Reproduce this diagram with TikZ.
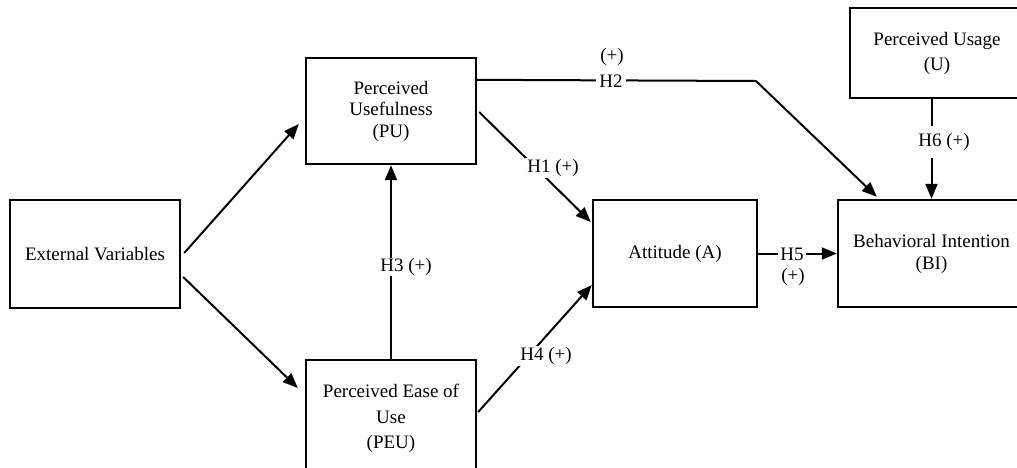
\documentclass[tikz,border=0pt]{standalone}
\usepackage{fontspec}
\setmainfont{Liberation Serif}
\usetikzlibrary{arrows.meta,calc}
\begin{document}
\begin{tikzpicture}[x=1pt,y=-1pt,
  box/.style={draw, line width=2.4pt, inner sep=0pt, align=center, font=\fontsize{19}{21.5}\selectfont},
  arr/.style={line width=2pt, -{Triangle[length=15pt,width=12pt]}},
  ln/.style={line width=2pt},
  lbl/.style={fill=white, inner xsep=2pt, inner ysep=1pt, font=\fontsize{19}{22}\selectfont},
  plain/.style={inner sep=0pt, font=\fontsize{19}{22}\selectfont}]
\clip (0,0) rectangle (1017,467);
% boxes
\node[box, minimum width=170pt, minimum height=108pt] (ev) at (95,254) {External Variables};
\node[box, minimum width=170pt, minimum height=106pt] (pu) at (391,111) {Perceived\\Usefulness\\(PU)};
\node[box, minimum width=170pt, minimum height=116pt, font=\fontsize{19}{25.5}\selectfont] (peu) at (391,418)
  {\raisebox{6pt}{\begin{tabular}{@{}c@{}}Perceived Ease of\\Use\\(PEU)\end{tabular}}};
\node[box, minimum width=164pt, minimum height=107pt] (at) at (675,253.5) {Attitude (A)};
\node[box, minimum width=187pt, minimum height=107pt, font=\fontsize{19}{22}\selectfont] (bi) at (931.5,253.5) {Behavioral Intention\\(BI)};
\node[box, minimum width=174pt, minimum height=90pt, font=\fontsize{19}{25}\selectfont] (us) at (937,53) {Perceived Usage\\(U)};
% connectors
\draw[arr] ($(ev.east)+(3,-1)$) -- ($(pu.west)+(-6,13)$);
\draw[arr] ($(ev.east)+(2,23)$) -- ($(peu.west)+(-7,-30)$);
\draw[arr] (peu.north) -- (pu.south);
\draw[arr] ($(pu.east)+(2,1)$) -- ($(at.west)+(-1,-31.5)$);
\draw[arr] ($(peu.east)+(1,-6)$) -- ($(at.west)+(0,31.5)$);
\coordinate (bend) at (756,81);
\draw[arr] ($(pu.north east)+(0,23)$) -- (bend) -- ($(bi.north west)+(40,-2)$);
\draw[arr] (at.east) -- (bi.west);
\draw[arr] (bi.north |- us.south) -- (bi.north);
% labels
\node[lbl] (h1) at (553,168) {H1 (+)};
\node[lbl, inner xsep=3pt] (h2) at (611,81) {H2};
\node[plain] (h2p) at (612,57) {(+)};
\node[lbl, inner ysep=0pt] (h3) at (406,267) {H3 (+)};
\node[lbl] (h4) at (546,356) {H4 (+)};
\node[lbl] (h5) at (792,254) {H5};
\node[plain] (h5p) at (793,277) {(+)};
\node[lbl, inner ysep=7pt] (h6) at (944,142) {H6 (+)};
\end{tikzpicture}
\end{document}
